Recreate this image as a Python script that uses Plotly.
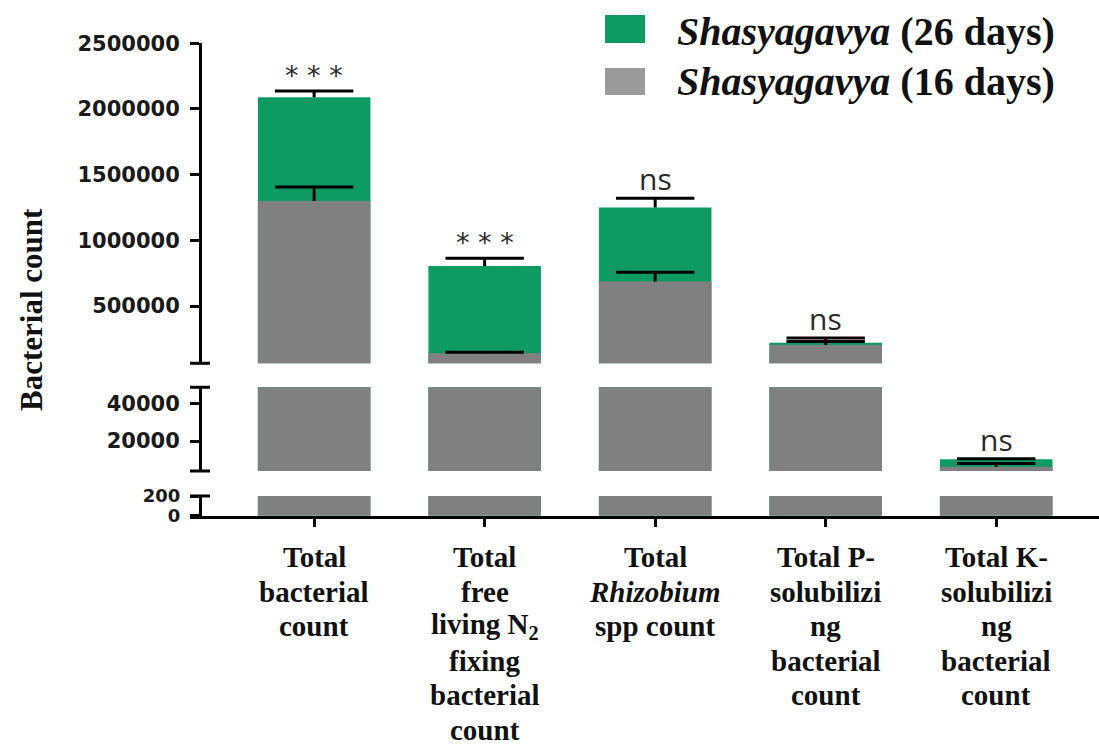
import plotly.graph_objects as go

# ---- data -------------------------------------------------------------
categories = [
    "Total bacterial count",
    "Total free living N2 fixing bacterial count",
    "Total Rhizobium spp count",
    "Total P-solubilizing bacterial count",
    "Total K-solubilizing bacterial count",
]
label_lines = [
    ["Total", "bacterial", "count"],
    ["Total", "free", "living N<sub>2</sub>", "fixing", "bacterial", "count"],
    ["Total", "<i>Rhizobium</i>", "spp count"],
    ["Total P-", "solubilizi", "ng", "bacterial", "count"],
    ["Total K-", "solubilizi", "ng", "bacterial", "count"],
]
crop = "Shasyagavya"
durations = ["26 days", "16 days"]

count_26d = [2090000, 805000, 1250000, 221000, 10100]
sd_26d = [46000, 58000, 71000, 35000, 300]
count_16d = [1300000, 140000, 686000, 203000, 6100]
sd_16d = [106000, 8000, 71000, 27000, 1800]
significance = ["***", "***", "ns", "ns", "ns"]

top_ticks = [500000, 1000000, 1500000, 2000000, 2500000]
mid_ticks = [20000, 40000]
low_ticks = [0, 200]

# ---- layout helpers ---------------------------------------------------
W, H = 1099, 745


def fx(px):
    return px / W


def fy(px):
    return 1 - px / H


GREEN = "#0E9A63"
GREY = "#808080"
INK = "#111111"

# broken y axis: three stacked segments (pixel top, pixel bottom, range, ticks, label size)
segments = {
    "y": (43.3, 363.3, [64000, 2500000], top_ticks, 21),
    "y2": (387.3, 471.0, [3800, 49000], mid_ticks, 21),
    "y3": (496.0, 515.7, [0, 200], low_ticks, 18),
}

fig = go.Figure()

for ax in segments:
    for vals, color, dur in [(count_26d, GREEN, durations[0]),
                             (count_16d, GREY, durations[1])]:
        fig.add_trace(go.Bar(
            x=categories, y=vals, yaxis=ax, xaxis="x",
            name=f"{crop} ({dur})", showlegend=False,
            marker=dict(color=color, line=dict(width=0)),
            width=0.66,
        ))
    # upper SD whiskers: stem from the bar top to mean + SD, then a cap
    for vals, sds, dur in [(count_26d, sd_26d, durations[0]),
                           (count_16d, sd_16d, durations[1])]:
        fig.add_trace(go.Scatter(
            x=categories, y=[v + s / 2 for v, s in zip(vals, sds)],
            yaxis=ax, xaxis="x", mode="markers", showlegend=False,
            name=f"SD {dur}", marker=dict(size=1, color="rgba(0,0,0,0)"),
            error_y=dict(type="data", array=[s / 2 for s in sds],
                         color="black", thickness=3, width=0),
        ))
        fig.add_trace(go.Scatter(
            x=categories, y=[v + s for v, s in zip(vals, sds)],
            yaxis=ax, xaxis="x", mode="markers", showlegend=False,
            name=f"SD cap {dur}",
            marker=dict(symbol="line-ew", size=56,
                        line=dict(color="black", width=3)),
        ))

axis_common = dict(
    anchor="free", position=fx(200), showline=True, linecolor="black",
    linewidth=3, ticks="outside", ticklen=9, tickwidth=2.5, tickcolor="black",
    showgrid=False, zeroline=False, ticklabelstandoff=6, automargin=False,
)

layout_axes = {}
for ax, (ptop, pbot, rng, ticks, fsize) in segments.items():
    key = "yaxis" if ax == "y" else "yaxis" + ax[1:]
    layout_axes[key] = dict(
        domain=[fy(pbot), fy(ptop)], range=rng, tickvals=ticks,
        ticktext=[str(t) for t in ticks],
        tickfont=dict(family="DejaVu Sans", size=fsize, color="#1a1a1a",
                      weight="bold"),
        **axis_common,
    )

fig.update_layout(
    template="none",
    width=W, height=H,
    margin=dict(l=0, r=0, t=0, b=0, pad=0, autoexpand=False),
    paper_bgcolor="white", plot_bgcolor="white",
    barmode="overlay", showlegend=False,
    xaxis=dict(
        domain=[fx(190), 1.0], anchor="y3", type="category",
        range=[-0.728, 4.603], showline=True, linecolor="black", linewidth=3,
        ticks="outside", ticklen=8, tickwidth=3, tickcolor="black",
        showticklabels=False, showgrid=False, zeroline=False, automargin=False,
    ),
    **layout_axes,
)

# end caps of the broken y-axis segments
shapes = []
for yref, pos in [("y domain", 0), ("y2 domain", 0), ("y2 domain", 1), ("y3 domain", 1)]:
    shapes.append(dict(type="line", xref="paper", yref=yref,
                       x0=fx(190), x1=fx(210), y0=pos, y1=pos,
                       line=dict(color="black", width=3)))

# legend keys
legend_rows = [(GREEN, 15, 43, 31), ("#9A9A9A", 68, 95, 81)]
annotations = []
for (color, top, bot, mid), dur in zip(legend_rows, durations):
    shapes.append(dict(type="rect", xref="paper", yref="paper",
                       x0=fx(605), x1=fx(645), y0=fy(bot), y1=fy(top),
                       fillcolor=color, line=dict(width=0)))
    annotations.append(dict(
        xref="paper", yref="paper", x=fx(675), y=fy(mid),
        xanchor="left", yanchor="middle", showarrow=False,
        text=f"<b><i>{crop}</i> ({dur})</b>",
        font=dict(family="Liberation Serif", size=40, color=INK),
    ))

# y-axis title
annotations.append(dict(
    xref="paper", yref="paper", x=fx(31), y=fy(310), textangle=-90,
    xanchor="center", yanchor="middle",
    showarrow=False, text="<b>Bacterial count</b>",
    font=dict(family="Liberation Serif", size=31, color=INK),
))

# category labels, one line at a time
for cat, lines in zip(categories, label_lines):
    for j, line in enumerate(lines):
        annotations.append(dict(
            xref="x", yref="paper", x=cat, y=fy(557 + 34.5 * j),
            xanchor="center", yanchor="middle", showarrow=False,
            text=f"<b>{line}</b>",
            font=dict(family="Liberation Serif", size=29, color=INK),
        ))

# significance marks above the error bars
top_floor = segments["y"][2][0]
for cat, mark, v, s in zip(categories, significance, count_26d, sd_26d):
    tip = v + s
    yref = "y" if tip > top_floor else "y2"
    if mark == "***":
        text, fam, size, shift = "* * *", "DejaVu Sans", 27, -2
    else:
        text, fam, size, shift = mark, "Open Sans", 30, -3
    annotations.append(dict(
        xref="x", yref=yref, x=cat, y=tip, xanchor="center", yanchor="bottom",
        yshift=shift, showarrow=False, text=text,
        font=dict(family=fam, size=size, color="#2a2a2a"),
    ))

fig.update_layout(shapes=shapes, annotations=annotations)

fig.write_html("out.html")
